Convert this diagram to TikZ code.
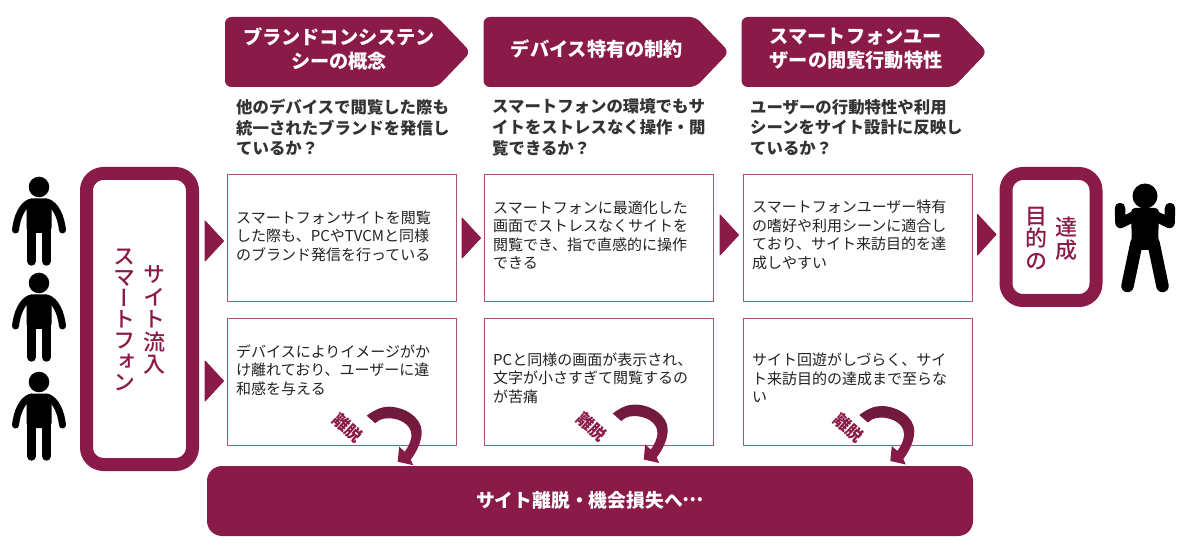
\documentclass[tikz,border=0pt]{standalone}
\usepackage{fontspec}
\setmainfont{Noto Sans CJK JP}
\newfontfamily\vfont[RawFeature=+vert]{Noto Sans CJK JP Medium}
\definecolor{wine}{HTML}{8A1A48}
\definecolor{winedark}{HTML}{6E1A3C}
\definecolor{wineline}{HTML}{A85478}
\definecolor{inkdark}{HTML}{333333}
\definecolor{inkbody}{HTML}{222222}
\tikzset{
  headbox/.style={fill=wine,draw=wine,line width=1pt,rounded corners=6pt},
  headtext/.style={text=white,font=\fontsize{19.2}{24}\selectfont\bfseries,align=center,inner sep=0pt},
  subtext/.style={text=inkdark,font=\fontsize{16.4}{20.8}\selectfont\bfseries,align=left,anchor=west,inner sep=0pt},
  cellbox/.style={draw=wineline,line width=1pt,fill=white,minimum width=229pt,minimum height=127pt,inner sep=0pt,anchor=north west},
  celltext/.style={text=inkbody,font=\fontsize{15}{18.5}\selectfont,align=left,anchor=west,inner sep=0pt},
  framebox/.style={draw=wine,line width=13pt,fill=white,rounded corners=17pt,inner sep=0pt},
  chevron/.style={fill=wine,draw=wine,line width=1pt,line join=round},
  vtext/.style={text=wine,align=center,inner sep=0pt,font=\vfont\fontsize{22}{22.5}\selectfont},
  leavetext/.style={text=wine,font=\fontsize{16.5}{16.5}\selectfont\bfseries,rotate=-42,inner sep=0pt},
  leavearrow/.style={top color=winedark,bottom color=wine,draw=none},
  personarm/.style={line width=7pt,line cap=round,draw=black},
  personleg/.style={line width=9.5pt,line cap=round,draw=black},
}
\newcommand{\personfig}[1]{%
  \begin{scope}[shift={#1}]
    \fill[black] (0,0) circle (10.3);
    \fill[black,rounded corners=5pt] (-12.5,11.5) -- (12.5,11.5) -- (12.5,46) -- (-12.5,46) -- cycle;
    \draw[personarm] (-8,15) .. controls (-17,18) and (-22,30) .. (-23.5,43);
    \draw[personarm] (8,15) .. controls (17,18) and (22,30) .. (23.5,43);
    \draw[personleg] (-7.4,40) -- (-7.4,74);
    \draw[personleg] (7.4,40) -- (7.4,74);
  \end{scope}}
\newcommand{\leavearrowfig}[1]{%
  \begin{scope}[shift={#1}]
    \path[leavearrow] (0,0) .. controls (8,-6) and (15,-9) .. (22,-9)
      .. controls (38,-9) and (55,2) .. (55,16)
      .. controls (55,26) and (50,36) .. (44,44)
      -- (46.5,49.5) -- (31,46) -- (32.5,31) -- (38,36)
      .. controls (44,28) and (46,20) .. (44,15)
      .. controls (41,6) and (28,1) .. (17,3)
      .. controls (14,3.5) and (11,5) .. (8.5,7.5) -- cycle;
  \end{scope}}
\begin{document}
\begin{tikzpicture}[x=1pt,y=-1pt]
\useasboundingbox (0,0) rectangle (1200,553);
% head pentagons
\path[headbox] (225.5,17.5) -- (437,17.5) -- (470,52) -- (437,86.5) -- (225.5,86.5) -- cycle;
\path[headbox] (484,17.5) -- (695.5,17.5) -- (728.5,52) -- (695.5,86.5) -- (484,86.5) -- cycle;
\path[headbox] (742,17.5) -- (953.5,17.5) -- (986.5,52) -- (953.5,86.5) -- (742,86.5) -- cycle;
\node[headtext] (h1) at (339,49) {ブランドコンシステン\\シーの概念};
\node[headtext] (h2) at (597,49.5) {デバイス特有の制約};
\node[headtext] (h3) at (856,49) {スマートフォンユー\\ザーの閲覧行動特性};
\node[subtext] (s1) at (236,127.5) {他のデバイスで閲覧した際も\\統一されたブランドを発信し\\ているか？};
\node[subtext] (s2) at (492,127.5) {スマートフォンの環境でもサ\\イトをストレスなく操作・閲\\覧できるか？};
\node[subtext] (s3) at (750,127.5) {ユーザーの行動特性や利用\\シーンをサイト設計に反映し\\ているか？};
% cells
\node[cellbox] (c11) at (227,174) {};
\node[cellbox] (c12) at (484,174) {};
\node[cellbox] (c13) at (743,174) {};
\node[cellbox] (c21) at (227,318) {};
\node[cellbox] (c22) at (484,318) {};
\node[cellbox] (c23) at (743,318) {};
\node[celltext] (t11) at (236,236) {スマートフォンサイトを閲覧\\した際も、PCやTVCMと同様\\のブランド発信を行っている};
\node[celltext] (t12) at (493,235) {スマートフォンに最適化した\\画面でストレスなくサイトを\\閲覧でき、指で直感的に操作\\できる};
\node[celltext] (t13) at (752,235) {スマートフォンユーザー特有\\の嗜好や利用シーンに適合し\\ており、サイト来訪目的を達\\成しやすい};
\node[celltext] (t21) at (236,370) {デバイスによりイメージがか\\け離れており、ユーザーに違\\和感を与える};
\node[celltext] (t22) at (493,378) {PCと同様の画面が表示され、\\文字が小さすぎて閲覧するの\\が苦痛};
\node[celltext] (t23) at (752,378) {サイト回遊がしづらく、サイ\\ト来訪目的の達成まで至らな\\い};
% frames
\node[framebox,minimum width=106pt,minimum height=291pt] (f1) at (139.5,319) {};
\node[framebox,minimum width=90pt,minimum height=127pt] (f2) at (1051,237) {};
\node[vtext] (v1a) at (154,320) {サ\\イ\\ト\\流\\入};
\node[vtext,font=\vfont\fontsize{22}{21}\selectfont] (v1b) at (124,320) {ス\\マ\\ー\\ト\\フ\\ォ\\ン};
\node[vtext] (v2a) at (1066,238.5) {達\\成};
\node[vtext] (v2b) at (1036,238.5) {目\\的\\の};
% chevrons
\path[chevron] (205,221) -- (223.5,241) -- (205,261) -- cycle;
\path[chevron] (205,361) -- (223.5,381) -- (205,401) -- cycle;
\path[chevron] (462,218) -- (480.5,238) -- (462,258) -- cycle;
\path[chevron] (720,215) -- (738.5,235) -- (720,255) -- cycle;
\path[chevron] (977.5,214.5) -- (996,234.5) -- (977.5,255) -- cycle;
% bar
\node[fill=wine,rounded corners=15pt,minimum width=766pt,minimum height=70pt,inner sep=0pt] (bar) at (590,501) {};
\node[text=white,font=\fontsize{18.8}{22}\selectfont\bfseries,inner sep=0pt] (bart) at (590,500) {サイト離脱・機会損失へ\raisebox{.32em}{…}};
% leave arrows
\leavearrowfig{(366.7,415.7)}
\leavearrowfig{(612.7,413.5)}
\leavearrowfig{(859.3,415)}
\node[leavetext] (l1) at (348,428) {離脱};
\node[leavetext] (l2) at (591.5,427) {離脱};
\node[leavetext] (l3) at (849,428) {離脱};
% people
\personfig{(39,187)}
\personfig{(39,283)}
\personfig{(39,382)}
\fill[black] (1145,196) circle (12.5);
\fill[black,rounded corners=4pt] (1131,208) -- (1159,208) -- (1158,250) -- (1132,250) -- cycle;
\draw[line width=10.5pt,line cap=round,line join=round] (1137,215) -- (1120.5,223) -- (1120,208);
\draw[line width=10.5pt,line cap=round,line join=round] (1153,215) -- (1169.5,223) -- (1170,208);
\draw[line width=12.5pt,line cap=round] (1136.5,243) -- (1127.5,286);
\draw[line width=12.5pt,line cap=round] (1153.5,243) -- (1162.5,286);
\end{tikzpicture}
\end{document}
